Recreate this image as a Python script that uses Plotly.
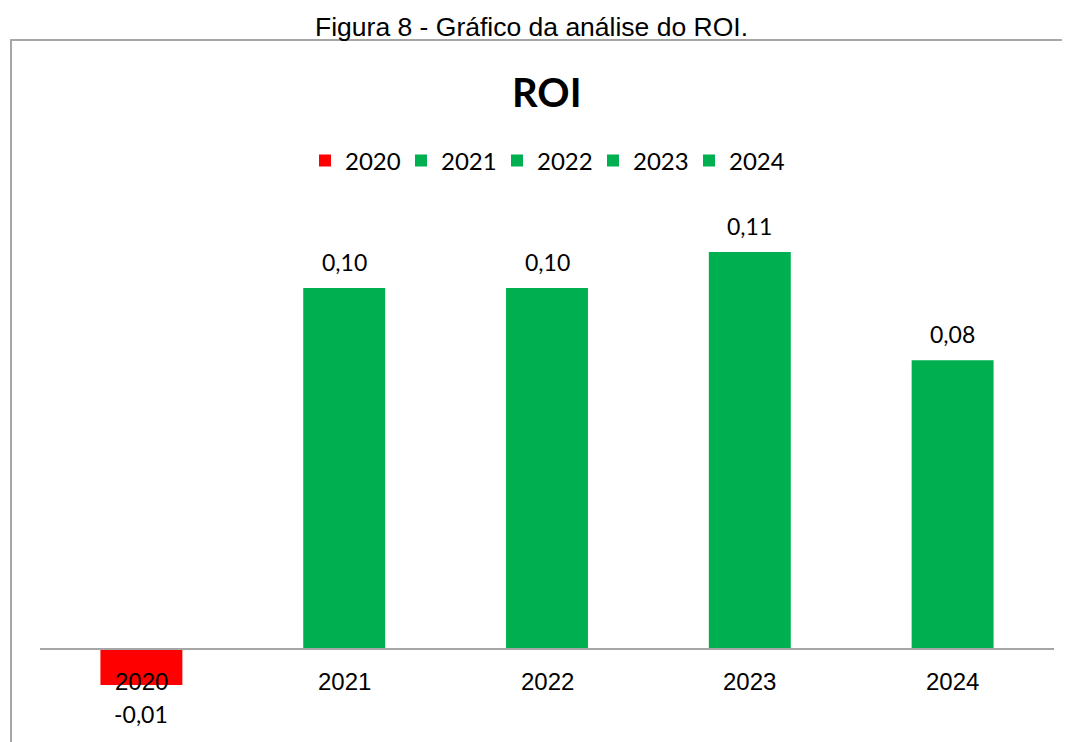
import plotly.graph_objects as go

categories = ["2020", "2021", "2022", "2023", "2024"]
values = [-0.01, 0.10, 0.10, 0.11, 0.08]
colors = ["#FF0000", "#00B050", "#00B050", "#00B050", "#00B050"]
value_labels = ["-0,01", "0,10", "0,10", "0,11", "0,08"]

W, H = 1070, 742
OFF = 8  # page body margin
ML, MR, MT, MB = 32, 24, 182, 50
PW = W - ML - MR
PH = H - MT - MB

def px_x(x):
    return (x - OFF - ML) / PW

def px_y(y):
    return (H - MB - (y - OFF)) / PH

fig = go.Figure()
for c, v, col in zip(categories, values, colors):
    fig.add_trace(go.Bar(
        x=[c], y=[v], name=c, marker=dict(color=col, line=dict(width=0)),
        width=0.404, hoverinfo="skip",
    ))

label_font = dict(family="Lato, Carlito, sans-serif", size=23, color="#000000")
annotations = []
for i, (c, v, lab) in enumerate(zip(categories, values, value_labels)):
    if v >= 0:
        annotations.append(dict(x=i, y=v, xref="x", yref="y", text=lab, showarrow=False,
                                yanchor="middle", yshift=26, font=label_font))
    else:
        annotations.append(dict(x=i, y=v, xref="x", yref="y", text=lab, showarrow=False,
                                yanchor="middle", yshift=-29, font=label_font))
    annotations.append(dict(x=i, y=0, xref="x", yref="y", text=c, showarrow=False,
                            yanchor="middle", yshift=-32,
                            font=dict(family="Liberation Sans, Arial, sans-serif", size=24, color="#000000")))

annotations.append(dict(x=px_x(531), y=px_y(27), xref="paper", yref="paper",
                        text="Figura 8 - Gráfico da análise do ROI.", showarrow=False,
                        xanchor="center", yanchor="middle",
                        font=dict(family="Liberation Sans, Arial, sans-serif", size=26.5, color="#000000")))
annotations.append(dict(x=px_x(547), y=px_y(92), xref="paper", yref="paper",
                        text="<b>ROI</b>", showarrow=False, xanchor="center", yanchor="middle",
                        font=dict(family="Lato, Carlito, sans-serif", size=40, color="#000000")))

shapes = [
    dict(type="rect", xref="paper", yref="paper",
         x0=px_x(11), x1=px_x(1072), y0=px_y(770), y1=px_y(40),
         line=dict(color="#A6A6A6", width=2), fillcolor="rgba(0,0,0,0)", layer="below"),
    dict(type="line", xref="paper", yref="y", x0=0, x1=1, y0=0, y1=0,
         line=dict(color="#A6A6A6", width=2), layer="above"),
]

zero_fig = 649 - OFF
scale = 3610.0
y_bottom = -(H - MB - zero_fig) / scale
y_top = (zero_fig - MT) / scale

fig.update_layout(
    width=W, height=H,
    margin=dict(l=ML, r=MR, t=MT, b=MB, pad=0),
    paper_bgcolor="white", plot_bgcolor="white",
    barmode="relative",
    separators=",.",
    showlegend=True,
    legend=dict(orientation="h", x=px_x(545), xanchor="center", y=px_y(161), yanchor="middle",
                font=dict(family="Lato, Carlito, sans-serif", size=24, color="#000000"),
                itemwidth=30, entrywidth=51, entrywidthmode="pixels",
                traceorder="normal", bgcolor="rgba(0,0,0,0)"),
    xaxis=dict(type="category", showticklabels=False, showline=False, showgrid=False,
               zeroline=False, ticks="", range=[-0.5, 4.5]),
    yaxis=dict(visible=False, range=[y_bottom, y_top], showgrid=False, zeroline=False),
    annotations=annotations,
    shapes=shapes,
)

fig.write_html("out.html")
